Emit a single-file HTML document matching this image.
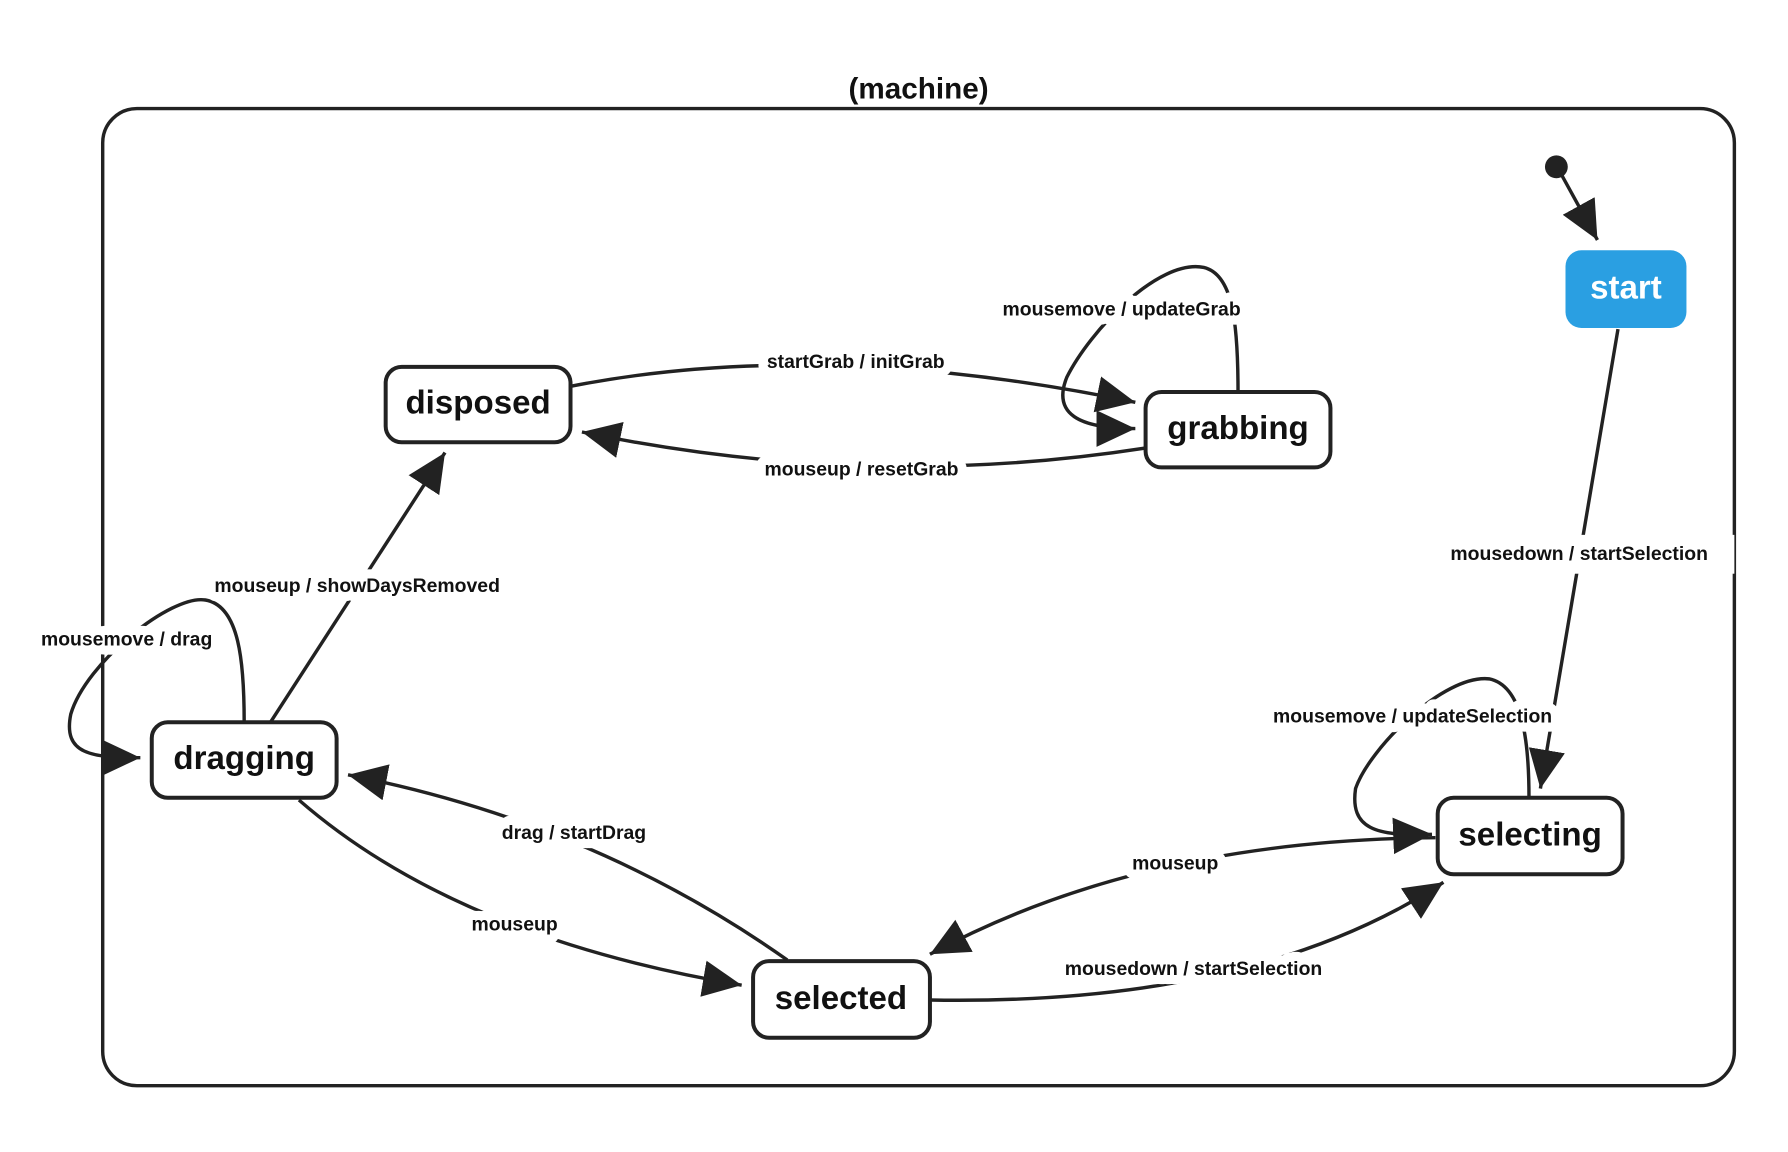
<!DOCTYPE html>
<html><head><meta charset="utf-8"><style>
html,body{margin:0;padding:0;background:#fff;}
svg{display:block;}
text{font-family:"Liberation Sans",Arial,sans-serif;font-weight:bold;fill:#111;}
.lbl{font-size:17px;text-anchor:middle;paint-order:stroke;stroke:#fff;stroke-width:16px;stroke-linejoin:round;}
.st{font-size:29px;text-anchor:middle;}
.e{fill:none;stroke:#222;stroke-width:3;marker-end:url(#a);}
.n{fill:#fff;stroke:#222;stroke-width:3.5;}
</style></head><body>
<svg width="1788" height="1152" viewBox="0 0 1567 1008" preserveAspectRatio="none" xmlns="http://www.w3.org/2000/svg">
<defs><marker id="a" markerUnits="userSpaceOnUse" markerWidth="38" markerHeight="34" refX="34" refY="16" orient="auto"><path d="M0,0 L34,16 L0,32 z" fill="#222"/></marker></defs>
<text x="805" y="86" style="font-size:26px;text-anchor:middle">(machine)</text>
<rect x="90" y="95" width="1430" height="855" rx="30" fill="none" stroke="#222" stroke-width="3"/>
<circle cx="1364" cy="146" r="10" fill="#222"/>
<path class="e" d="M1368,152 L1400,210"/>
<path class="e" d="M500,338 Q720,295 995,352"/>
<path class="e" d="M1004,392 Q760,430 510,378"/>
<path class="e" d="M1085,343 C1085,280 1080,240 1055,234 C1015,226 955,290 935,330 C922,362 945,375 995,375"/>
<path class="e" d="M1418,288 L1350,690"/>
<path class="e" d="M1340,698 C1340,650 1335,600 1305,594 C1265,590 1200,655 1188,690 C1183,725 1205,732 1255,730"/>
<path class="e" d="M1258,733 Q1000,735 815,835"/>
<path class="e" d="M815,875 Q1100,880 1265,772"/>
<path class="e" d="M690,840 Q520,720 305,678"/>
<path class="e" d="M262,700 Q400,820 650,862"/>
<path class="e" d="M237,632 L390,396"/>
<path class="e" d="M214,632 C214,580 210,530 180,525 C150,520 75,580 62,625 C55,660 80,663 123,663"/>
<text class="lbl" x="750" y="322">startGrab / initGrab</text>
<text class="lbl" x="755" y="416">mouseup / resetGrab</text>
<text class="lbl" x="983" y="276">mousemove / updateGrab</text>
<rect x="1258" y="468" width="262" height="34" fill="#fff"/>
<text class="lbl" x="1384" y="490">mousedown / startSelection</text>
<text class="lbl" x="1238" y="632">mousemove / updateSelection</text>
<text class="lbl" x="1030" y="761">mouseup</text>
<text class="lbl" x="1046" y="853">mousedown / startSelection</text>
<text class="lbl" x="503" y="734">drag / startDrag</text>
<text class="lbl" x="451" y="814">mouseup</text>
<text class="lbl" x="313" y="518">mouseup / showDaysRemoved</text>
<text class="lbl" x="111" y="565">mousemove / drag</text>
<rect x="1372" y="219" width="106" height="68" rx="14" fill="#2a9fe2"/>
<text class="st" x="1425" y="261" style="fill:#fff">start</text>
<rect class="n" x="338" y="321" width="162" height="66" rx="14"/>
<text class="st" x="419" y="362">disposed</text>
<rect class="n" x="1004" y="343" width="162" height="66" rx="14"/>
<text class="st" x="1085" y="384">grabbing</text>
<rect class="n" x="133" y="632" width="162" height="66" rx="14"/>
<text class="st" x="214" y="673">dragging</text>
<rect class="n" x="660" y="841" width="155" height="67" rx="14"/>
<text class="st" x="737" y="883">selected</text>
<rect class="n" x="1260" y="698" width="162" height="67" rx="14"/>
<text class="st" x="1341" y="740">selecting</text>
</svg>
</body></html>
